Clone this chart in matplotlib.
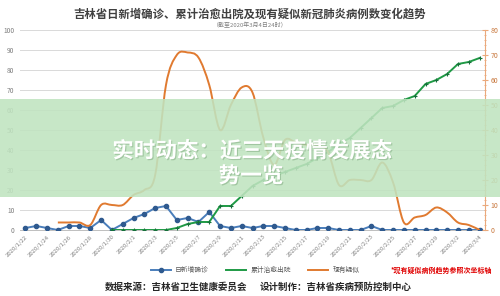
import numpy as np
import matplotlib.pyplot as plt
import matplotlib.patheffects as pe
from matplotlib.lines import Line2D
from matplotlib.path import Path
from matplotlib.patches import PathPatch, Rectangle

plt.rcParams['font.family'] = ['Noto Sans CJK SC', 'DejaVu Sans']

# dates 2020/1/22 .. 2020/3/4
dates = ['2020/1/22', '2020/1/23', '2020/1/24', '2020/1/25', '2020/1/26', '2020/1/27',
         '2020/1/28', '2020/1/29', '2020/1/30', '2020/1/31', '2020/2/1', '2020/2/2',
         '2020/2/3', '2020/2/4', '2020/2/5', '2020/2/6', '2020/2/7', '2020/2/8',
         '2020/2/9', '2020/2/10', '2020/2/11', '2020/2/12', '2020/2/13', '2020/2/14',
         '2020/2/15', '2020/2/16', '2020/2/17', '2020/2/18', '2020/2/19', '2020/2/20',
         '2020/2/21', '2020/2/22', '2020/2/23', '2020/2/24', '2020/2/25', '2020/2/26',
         '2020/2/27', '2020/2/28', '2020/2/29', '2020/3/1', '2020/3/2', '2020/3/3',
         '2020/3/4']

# 日新增确诊 (left axis)
new_confirmed = [1, 2, 1, 0, 2, 2, 1, 5, 0, 3, 6, 8, 11, 12, 5, 6, 4, 9, 2, 1, 2, 1,
                 2, 2, 1, 0, 0, 1, 1, 0, 0, 0, 2, 0, 0, 0, 0, 0, 0, 0, 0, 0, 0]

# 累计治愈出院 (left axis), starts 2020/1/30
cured = [np.nan] * 8 + [0, 0, 0, 0, 0, 0, 1, 3, 4, 4, 12, 12, 17, 22, 25, 27, 29, 31,
                        33, 36, 39, 43, 46, 51, 56, 61, 62, 65, 67, 73, 75, 78, 83, 84, 86]

# 现有疑似 (right axis), starts 2020/1/25
suspected = [np.nan] * 3 + [3, 3, 3, 2, 10, 10, 10, 14, 16, 22, 58, 70, 71, 69, 58, 40,
                            50, 57, 55, 37, 26, 36, 35, 34, 34, 31, 18, 20, 20, 20, 27, 19,
                            3, 5, 6, 9, 7, 3, 2, 0]

legend_labels = ['日新增确诊', '累计治愈出院', '现有疑似']

blue = '#4a7ebb'
blue_dark = '#2f5a8f'
green = '#1f9a45'
orange = '#e07a30'
axis_orange = '#eaa97c'
gray = '#7f7f7f'


def smooth_path(xs, ys):
    """Catmull-Rom style bezier path (like Excel's smoothed line)"""
    pts = np.column_stack([xs, ys])
    verts = [pts[0]]
    codes = [Path.MOVETO]
    n = len(pts)
    for k in range(n - 1):
        p0 = pts[k - 1] if k > 0 else pts[k]
        p1 = pts[k]
        p2 = pts[k + 1]
        p3 = pts[k + 2] if k + 2 < n else pts[k + 1]
        c1 = p1 + (p2 - p0) / 6.0
        c2 = p2 - (p3 - p1) / 6.0
        verts += [c1, c2, p2]
        codes += [Path.CURVE4] * 3
    return Path(verts, codes)


fig = plt.figure(figsize=(5, 2.96), dpi=100)
ax = fig.add_axes([0.04, 0.2230, 0.93, 0.6757])
ax2 = ax.twinx()

x = np.arange(len(dates))

ax.yaxis.grid(True, color='#d9d9d9', linewidth=0.7)
ax.set_axisbelow(True)

ax.plot(x, new_confirmed, color=blue, linewidth=1.4, marker='o', markersize=3,
        markerfacecolor=blue_dark, markeredgecolor=blue_dark, zorder=3)
ax.plot(x, cured, color=green, linewidth=1.4, marker='+', markersize=3.5,
        markeredgewidth=0.8, markeredgecolor='#16703a', zorder=3)

sus = np.array(suspected, dtype=float)
mask = ~np.isnan(sus)
path = smooth_path(x[mask].astype(float), sus[mask])
ax2.add_patch(PathPatch(path, fill=False, edgecolor=orange, linewidth=1.4, zorder=3))

ax.set_xlim(-0.5, 42.5)
ax.set_ylim(0, 100)
ax2.set_ylim(0, 80)

ax.set_yticks(np.arange(0, 101, 10))
ax.tick_params(axis='y', length=0, labelsize=4.8, labelcolor=gray, pad=4)
ax.set_xticks(x[::2])
ax.set_xticklabels(dates[::2], rotation=45, ha='right', rotation_mode='anchor')
ax.tick_params(axis='x', length=0, labelsize=4.3, labelcolor=gray, pad=3)

ax2.set_yticks(np.arange(0, 81, 10))
ax2.set_yticks(np.arange(0, 81, 2), minor=True)
ax2.tick_params(axis='y', which='major', direction='inout', length=4, color=axis_orange,
                labelsize=5, labelcolor='#c8773c', pad=2)
ax2.tick_params(axis='y', which='minor', direction='inout', length=2, color=axis_orange)

for a in (ax, ax2):
    for side in ('top', 'left', 'right', 'bottom'):
        a.spines[side].set_visible(False)
ax2.spines['right'].set_visible(True)
ax2.spines['right'].set_color(axis_orange)
ax2.spines['right'].set_linewidth(0.8)
ax.spines['bottom'].set_visible(True)
ax.spines['bottom'].set_color('#bfbfbf')
ax.spines['bottom'].set_linewidth(0.7)

# titles
fig.text(0.5, 1 - 14 / 296, '吉林省日新增确诊、累计治愈出院及现有疑似新冠肺炎病例数变化趋势',
         ha='center', va='center', fontsize=8.2, fontweight='bold', color='#404040')
fig.text(0.5, 1 - 25.5 / 296, '（截至2020年3月4日24时）', ha='center', va='center',
         fontsize=4.3, color=gray)

# legend
handles = [
    Line2D([], [], color=blue, linewidth=1.4, marker='o', markersize=3,
           markerfacecolor=blue_dark, markeredgecolor=blue_dark),
    Line2D([], [], color=green, linewidth=1.4),
    Line2D([], [], color=orange, linewidth=1.4),
]
fig.legend(handles, legend_labels, ncol=3, loc='center', bbox_to_anchor=(0.51, 1 - 270 / 296),
           frameon=False, fontsize=4.9, labelcolor='#595959', handlelength=3,
           columnspacing=2.5, handletextpad=0.6)
fig.text(441 / 500, 1 - 270 / 296, '*现有疑似病例趋势参照次坐标轴', ha='center', va='center',
         fontsize=5, fontweight='bold', color='#e00000')

# footer
fig.text(105 / 500, 1 - 287 / 296, '数据来源：吉林省卫生健康委员会', ha='left', va='center',
         fontsize=6.8, fontweight='bold', color='#262626')
fig.text(260 / 500, 1 - 287 / 296, '设计制作：吉林省疾病预防控制中心', ha='left', va='center',
         fontsize=6.8, fontweight='bold', color='#262626')

# green overlay band with headline
fig.add_artist(Rectangle((0, 1 - 197 / 296), 1, 98 / 296, transform=fig.transFigure,
                         facecolor='#c0e4c0', edgecolor='none', alpha=0.88, zorder=10))
shadow = [pe.withSimplePatchShadow(offset=(0.8, -0.8), shadow_rgbFace='#5a8a5a', alpha=0.35)]
fig.text(0.504, 1 - 151 / 296, '实时动态：近三天疫情发展态', ha='center', va='center',
         fontsize=15.5, fontweight='bold', color='white', zorder=11, path_effects=shadow)
fig.text(0.502, 1 - 176 / 296, '势一览', ha='center', va='center',
         fontsize=15.5, fontweight='bold', color='white', zorder=11, path_effects=shadow)

fig.savefig('out.png', dpi=100)
